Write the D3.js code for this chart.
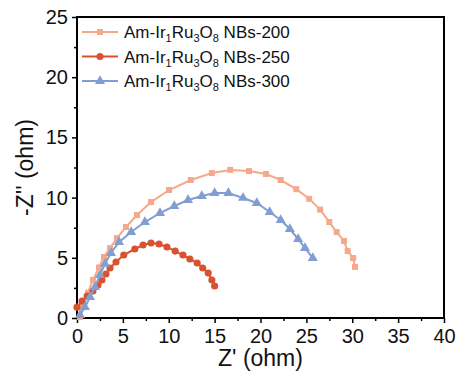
<!DOCTYPE html>
<html>
<head>
<meta charset="utf-8">
<script src="https://cdn.jsdelivr.net/npm/d3@7"></script>
<style>
  body { margin: 0; background: #fff; }
  text { font-family: "Liberation Sans", Arial, sans-serif; }
</style>
</head>
<body>
<div id="chart"></div>
<script>
// Nyquist data: Z' (ohm) and -Z'' (ohm)
const z200 = [0.33, 0.65, 1.2, 1.74, 2.4, 2.94, 3.6, 4.36, 5.34, 6.54, 8.07, 10.03, 12.4, 14.7, 16.7, 18.75, 20.6, 22.2, 23.9, 25.3, 26.5, 27.5, 28.3, 29.1, 29.5, 30.1, 30.3];
const zz200 = [0.08, 0.9, 2.1, 3.16, 4.2, 5.07, 5.8, 6.64, 7.56, 8.55, 9.63, 10.63, 11.46, 12.04, 12.3, 12.2, 11.96, 11.46, 10.7, 9.9, 9.0, 7.97, 7.14, 6.4, 5.56, 4.98, 4.24];

const z250 = [0.0, 0.55, 1.1, 1.74, 2.29, 2.72, 3.16, 3.6, 4.25, 5.1, 6.3, 7.2, 8.07, 8.94, 9.8, 10.7, 11.55, 12.3, 13.1, 13.7, 14.3, 14.7, 15.0];
const zz250 = [0.9, 1.4, 1.83, 2.24, 2.74, 3.16, 3.65, 4.15, 4.65, 5.23, 5.73, 6.06, 6.23, 6.15, 5.9, 5.56, 5.23, 4.9, 4.57, 4.15, 3.74, 3.16, 2.66];

const z300 = [0.33, 0.87, 1.42, 1.96, 2.5, 3.05, 3.7, 4.58, 5.9, 7.4, 9.05, 10.6, 12.1, 13.6, 15.0, 16.5, 18.1, 19.6, 21.0, 22.2, 23.2, 24.1, 24.85, 25.7];
const zz300 = [0.25, 0.9, 1.74, 2.57, 3.57, 4.5, 5.4, 6.3, 7.14, 7.97, 8.72, 9.3, 9.8, 10.13, 10.38, 10.38, 9.97, 9.55, 8.8, 8.14, 7.39, 6.56, 5.81, 4.98];

const seriesNames = ["NBs-200", "NBs-250", "NBs-300"];
const seriesColors = ["#f6a98a", "#d9522f", "#809ed1"];

const xTicks = [0, 5, 10, 15, 20, 25, 30, 35, 40];
const yTicks = [0, 5, 10, 15, 20, 25];

const series = [
    { name: seriesNames[0], color: seriesColors[0], shape: d3.symbolSquare, size: 36, pts: z200.map((x, i) => [x, zz200[i]]) },
    { name: seriesNames[1], color: seriesColors[1], shape: d3.symbolCircle, size: 40, pts: z250.map((x, i) => [x, zz250[i]]) },
    { name: seriesNames[2], color: seriesColors[2], shape: d3.symbolTriangle, size: 44, pts: z300.map((x, i) => [x, zz300[i]]) }
];

const W = 459, H = 385;
const margin = { top: 17, right: 15, bottom: 67, left: 77 };
const width = W - margin.left - margin.right;
const height = H - margin.top - margin.bottom;

const svg = d3.select("#chart")
    .append("svg")
    .attr("width", W)
    .attr("height", H)
    .append("g")
    .attr("transform", `translate(${margin.left}, ${margin.top})`);

const x = d3.scaleLinear().domain([0, 40]).range([0, width]);
const y = d3.scaleLinear().domain([0, 25]).range([height, 0]);

// minor ticks
const xMinor = d3.range(2.5, 40, 5);
const yMinor = d3.range(2.5, 25, 5);

svg.append("g")
    .attr("transform", `translate(0, ${height})`)
    .call(d3.axisBottom(x).tickValues(xMinor).tickSize(3).tickFormat(""))
    .call(g => g.select(".domain").remove())
    .selectAll("line").attr("stroke-width", 1.5);

svg.append("g")
    .call(d3.axisLeft(y).tickValues(yMinor).tickSize(3).tickFormat(""))
    .call(g => g.select(".domain").remove())
    .selectAll("line").attr("stroke-width", 1.5);

const xAxis = svg.append("g")
    .attr("transform", `translate(0, ${height})`)
    .call(d3.axisBottom(x).tickValues(xTicks).tickSize(5).tickPadding(6).tickSizeOuter(0));
xAxis.selectAll("text").style("font-size", "20px").attr("fill", "#111");
xAxis.selectAll("line").attr("stroke-width", 1.5);
xAxis.select(".domain").remove();

const yAxis = svg.append("g")
    .call(d3.axisLeft(y).tickValues(yTicks).tickSize(5).tickPadding(4).tickSizeOuter(0));
yAxis.selectAll("text").style("font-size", "20px").attr("fill", "#111");
yAxis.selectAll("line").attr("stroke-width", 1.5);
yAxis.select(".domain").remove();

// frame
svg.append("rect")
    .attr("x", 0).attr("y", 0)
    .attr("width", width).attr("height", height)
    .attr("fill", "none")
    .attr("stroke", "#000")
    .attr("stroke-width", 2);

const line = d3.line()
    .x(d => x(d[0]))
    .y(d => y(d[1]));

series.forEach(s => {
    svg.append("path")
        .datum(s.pts)
        .attr("d", line)
        .attr("fill", "none")
        .attr("stroke", s.color)
        .attr("stroke-width", 2);

    svg.selectAll(null)
        .data(s.pts)
        .enter()
        .append("path")
        .attr("d", d3.symbol().type(s.shape).size(s.size))
        .attr("transform", d => `translate(${x(d[0])}, ${y(d[1])})`)
        .attr("fill", s.color);
});

// legend
const legend = svg.append("g").attr("transform", "translate(5, 15)");
series.forEach((s, i) => {
    const g = legend.append("g").attr("transform", `translate(0, ${i * 24.5})`);
    g.append("line")
        .attr("x1", 0).attr("x2", 36)
        .attr("stroke", s.color)
        .attr("stroke-width", 2);
    g.append("path")
        .attr("d", d3.symbol().type(s.shape).size(s.size))
        .attr("transform", "translate(18, 0)")
        .attr("fill", s.color);
    const t = g.append("text")
        .attr("x", 42)
        .attr("y", 6)
        .style("font-size", "17px")
        .attr("fill", "#111");
    t.append("tspan").text("Am-Ir");
    t.append("tspan").text("1").attr("dy", 4).style("font-size", "11px");
    t.append("tspan").text("Ru").attr("dy", -4);
    t.append("tspan").text("3").attr("dy", 4).style("font-size", "11px");
    t.append("tspan").text("O").attr("dy", -4);
    t.append("tspan").text("8").attr("dy", 4).style("font-size", "11px");
    t.append("tspan").text(" " + s.name).attr("dy", -4);
});

// axis titles
svg.append("text")
    .attr("x", width / 2)
    .attr("y", height + 48)
    .style("text-anchor", "middle")
    .style("font-size", "23px")
    .attr("fill", "#111")
    .text("Z' (ohm)");

svg.append("text")
    .attr("transform", "rotate(-90)")
    .attr("x", -height / 2)
    .attr("y", -44)
    .style("text-anchor", "middle")
    .style("font-size", "23px")
    .attr("fill", "#111")
    .text("-Z'' (ohm)");
</script>
</body>
</html>
